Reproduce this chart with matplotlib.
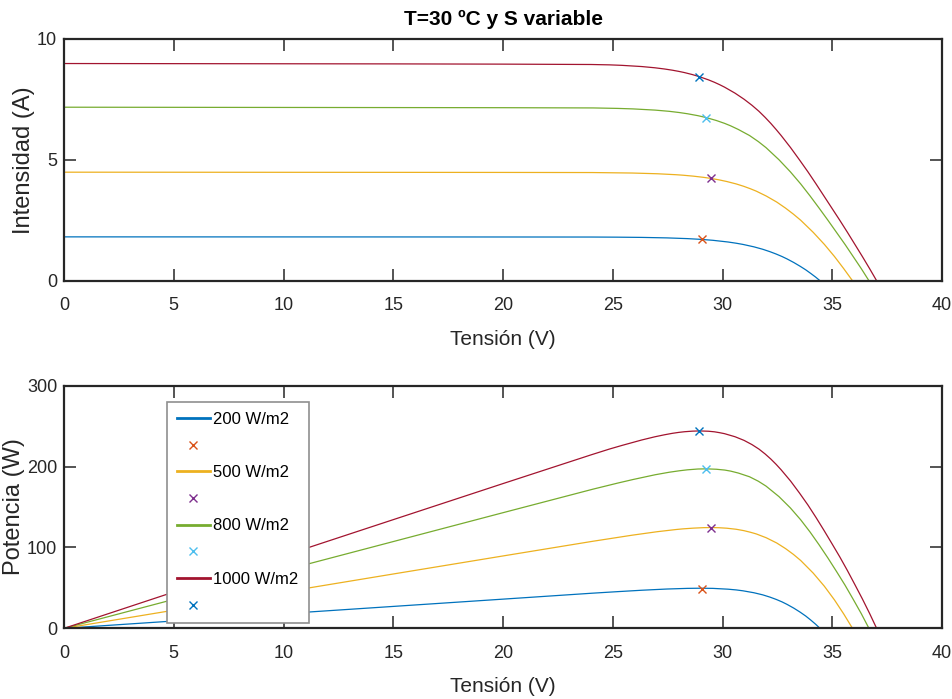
from matplotlib import pyplot as plt

# Curvas I-V y P-V de un panel a T = 30 ºC para distintas irradiancias
labels = ['200 W/m2', '500 W/m2', '800 W/m2', '1000 W/m2']

v_200 = [0, 5, 10, 15, 20, 24.04, 25.18, 26.32, 27.46, 28.39, 28.99, 29.56, 30.25, 30.62, 30.93,
         31.43, 31.83, 32.16, 32.45, 32.71, 32.94, 33.25, 33.53, 33.79, 34.02, 34.24, 34.44]
i_200 = [1.812, 1.811, 1.81, 1.809, 1.807, 1.805, 1.80, 1.79, 1.77, 1.74, 1.71, 1.67, 1.60, 1.55, 1.50,
         1.40, 1.30, 1.20, 1.10, 1.00, 0.90, 0.75, 0.60, 0.45, 0.30, 0.15, 0]
p_200 = [0, 9.06, 18.1, 27.1, 36.1, 43.4, 45.3, 47.1, 48.6, 49.4, 49.6, 49.4, 48.4, 47.5, 46.4,
         44.0, 41.4, 38.6, 35.7, 32.7, 29.6, 24.9, 20.1, 15.2, 10.2, 5.1, 0]

v_500 = [0, 5, 10, 15, 20, 24.08, 25.89, 27.03, 27.89, 28.20, 28.68, 29.15, 29.45, 29.83, 30.19,
         30.62, 30.97, 31.27, 31.54, 31.99, 32.47, 32.87, 33.23, 33.56, 34.13, 34.64, 35.10, 35.52, 35.92]
i_500 = [4.485, 4.483, 4.48, 4.478, 4.475, 4.47, 4.45, 4.42, 4.38, 4.36, 4.32, 4.27, 4.23, 4.17, 4.10,
         4.00, 3.90, 3.80, 3.70, 3.50, 3.25, 3.00, 2.75, 2.50, 2.00, 1.50, 1.00, 0.50, 0]
p_500 = [0, 22.4, 44.8, 67.2, 89.5, 107.6, 115.2, 119.5, 122.2, 123.0, 123.9, 124.5, 124.6, 124.4, 123.8,
         122.5, 120.8, 118.8, 116.7, 112.0, 105.5, 98.6, 91.4, 83.9, 68.3, 52.0, 35.1, 17.8, 0]

v_800 = [0, 5, 10, 15, 20, 24.10, 25.24, 25.92, 26.93, 27.57, 28.03, 28.40, 28.88, 29.26, 29.72,
         30.10, 30.37, 30.72, 31.23, 31.63, 31.98, 32.57, 33.09, 33.56, 33.99, 34.40, 34.80, 35.19,
         35.58, 35.95, 36.32, 36.67]
i_800 = [7.17, 7.165, 7.16, 7.155, 7.15, 7.14, 7.12, 7.10, 7.05, 7.00, 6.95, 6.90, 6.82, 6.74, 6.62,
         6.50, 6.40, 6.25, 6.00, 5.75, 5.50, 5.00, 4.50, 4.00, 3.50, 3.00, 2.50, 2.00,
         1.50, 1.00, 0.50, 0]
p_800 = [0, 35.8, 71.6, 107.3, 143.0, 172.1, 179.7, 184.0, 189.9, 193.0, 194.8, 196.0, 197.0, 197.2, 196.7,
         195.7, 194.4, 192.0, 187.4, 181.9, 175.9, 162.9, 148.9, 134.2, 119.0, 103.2, 87.0, 70.4,
         53.4, 36.0, 18.2, 0]

v_1000 = [0, 5, 10, 15, 20, 24.01, 24.85, 25.41, 26.32, 26.91, 27.35, 27.71, 28.01, 28.27, 28.62,
          28.95, 29.36, 29.63, 29.87, 30.09, 30.57, 30.98, 31.34, 31.66, 31.94, 32.20, 32.44, 32.67,
          33.10, 33.50, 33.89, 34.26, 34.62, 34.98, 35.34, 35.69, 36.03, 36.37, 36.70, 37.02]
i_1000 = [8.975, 8.97, 8.965, 8.96, 8.95, 8.935, 8.92, 8.90, 8.85, 8.80, 8.75, 8.70, 8.65, 8.60, 8.52,
          8.43, 8.30, 8.20, 8.10, 8.00, 7.75, 7.50, 7.25, 7.00, 6.75, 6.50, 6.25, 6.00,
          5.50, 5.00, 4.50, 4.00, 3.50, 3.00, 2.50, 2.00, 1.50, 1.00, 0.50, 0]
p_1000 = [0, 44.9, 89.7, 134.4, 179.0, 214.5, 221.7, 226.1, 232.9, 236.8, 239.3, 241.1, 242.3, 243.1, 243.8,
          244.1, 243.7, 243.0, 241.9, 240.7, 236.9, 232.4, 227.2, 221.6, 215.6, 209.3, 202.8, 196.0,
          182.1, 167.5, 152.5, 137.0, 121.2, 104.9, 88.4, 71.4, 54.0, 36.4, 18.4, 0]

# puntos de maxima potencia
mpp_v = [29.07, 29.49, 29.26, 28.94]
mpp_i = [1.71, 4.23, 6.74, 8.43]
mpp_p = [48.6, 124.4, 197.4, 244.0]

line_colors = ['#0072BD', '#EDB120', '#77AC30', '#A2142F']
mark_colors = ['#D95319', '#7E2F8E', '#4DBEEE', '#0072BD']

plt.rcParams['font.family'] = ['Liberation Sans', 'DejaVu Sans']
dark = '#262626'

fig = plt.figure(figsize=(9.53, 6.99), dpi=100)
ax1 = fig.add_axes([0.0672, 0.5984, 0.9213, 0.3462])
ax2 = fig.add_axes([0.0672, 0.1011, 0.9213, 0.3471])

volts = [v_200, v_500, v_800, v_1000]
amps = [i_200, i_500, i_800, i_1000]
watts = [p_200, p_500, p_800, p_1000]

handles = []
leg_labels = []
for k in range(4):
    ax1.plot(volts[k], amps[k], color=line_colors[k], lw=0.9)
    ax1.plot(mpp_v[k], mpp_i[k], 'x', color=mark_colors[k], ms=6, mew=1)
    l, = ax2.plot(volts[k], watts[k], color=line_colors[k], lw=0.9)
    m, = ax2.plot(mpp_v[k], mpp_p[k], 'x', color=mark_colors[k], ms=6, mew=1)
    handles += [l, m]
    leg_labels += [labels[k], '']


def style(ax, ymax, yticks):
    ax.set_xlim(0, 40)
    ax.set_ylim(0, ymax)
    ax.set_xticks(range(0, 41, 5))
    ax.set_yticks(yticks)
    ax.tick_params(direction='in', top=True, right=True, length=8.5, width=1.1,
                   labelsize=13, colors=dark)
    ax.tick_params(axis='x', pad=12)
    ax.tick_params(axis='y', pad=5)
    for s in ax.spines.values():
        s.set_linewidth(1.6)
        s.set_color(dark)
    ax.set_xlabel('Tensión (V)', fontsize=15, color=dark, labelpad=11)


style(ax1, 10, [0, 5, 10])
style(ax2, 300, [0, 100, 200, 300])

ax1.set_ylabel('Intensidad (A)', fontsize=17, color=dark, labelpad=1.5)
ax2.set_ylabel('Potencia (W)', fontsize=17, color=dark, labelpad=1.5)
ax1.set_title('T=30 ºC y S variable', fontweight='bold', fontsize=15, color='black', pad=10)

leg = ax2.legend(handles, leg_labels, loc='upper left', bbox_to_anchor=(0.117, 0.934),
                 borderaxespad=0, fancybox=False, framealpha=1, edgecolor='#8f8f8f',
                 fontsize=12, handlelength=2.0, handletextpad=0.2, labelspacing=0.7,
                 borderpad=0.6)
leg.get_frame().set_linewidth(1.2)
for h in leg.get_lines():
    if h.get_linestyle() != 'None':
        h.set_linewidth(2)

fig.savefig('out.png', dpi=100)
